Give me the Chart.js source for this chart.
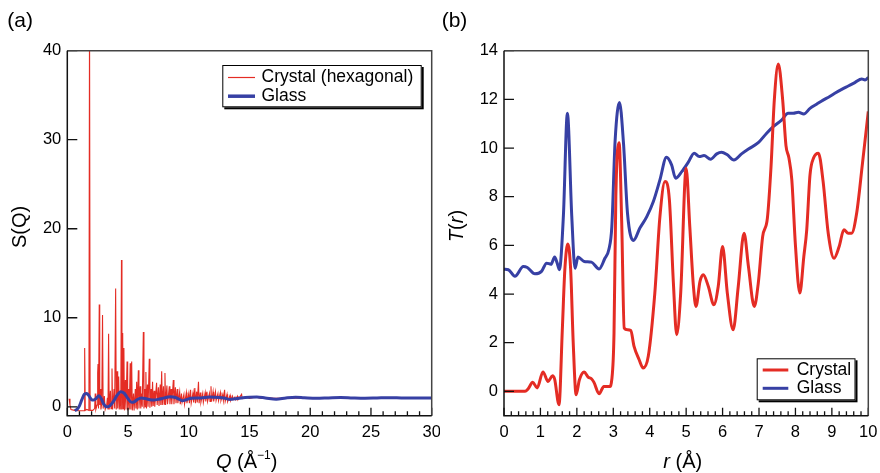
<!DOCTYPE html>
<html><head><meta charset="utf-8">
<script src="https://cdn.jsdelivr.net/npm/chart.js@4.4.1/dist/chart.umd.min.js"></script>
<style>
html,body{margin:0;padding:0;background:#fff;}
#wrap{position:relative;width:880px;height:473px;overflow:hidden;}
.box{position:absolute;top:0;width:440px;height:473px;}
</style></head><body>
<div id="wrap">
<div class="box" style="left:0"><canvas id="ca" width="440" height="473"></canvas></div>
<div class="box" style="left:440px"><canvas id="cb" width="440" height="473"></canvas></div>
</div>
<script>
// ---------- data: panel (a) S(Q) ----------
const crystalQ = [
 0.15,0.22,0.3,0.6,1.0,1.38,1.43,1.48,1.6,1.78,
 1.83,1.88,2.1,2.25,2.3,2.35,2.45,2.5,2.53,2.57,
 2.63,2.67,2.72,2.77,2.84,2.9,2.95,3.05,3.12,3.25,
 3.3,3.35,3.4,3.45,3.55,3.6,3.68,3.73,3.85,3.9,
 3.98,4.03,4.1,4.15,4.23,4.28,4.35,4.4,4.46,4.5,
 4.56,4.6,4.66,4.7,4.78,4.83,4.92,4.97,5.05,5.1,
 5.18,5.23,5.3,5.35,5.45,5.5,5.6,5.65,5.71,5.76,
 5.85,5.9,6.0,6.05,6.12,6.17,6.26,6.31,6.38,6.42,
 6.47,6.52,6.6,6.65,6.75,6.8,6.9,6.95,7.02,7.07,
 7.15,7.2,7.35,7.4,7.5,7.55,7.65,7.7,7.77,7.82,
 7.92,7.97,8.04,8.09,8.2,8.25,8.4,8.45,8.55,8.6,
 8.73,8.78,8.9,8.95,9.05,9.1,9.25,9.3,9.4,9.45,
 9.6,9.65,9.8,9.85,10.0,10.05,10.15,10.2,10.35,10.4,
 10.5,10.55,10.65,10.7,10.8,10.85,10.95,11.0,11.15,11.2,
 11.35,11.4,11.5,11.55,11.7,11.75,11.83,11.88,12.0,12.05,
 12.2,12.25,12.4,12.45,12.6,12.65,12.8,12.85,12.95,13.0,
 13.15,13.2,13.4,13.45,13.6,13.65,13.8,13.85,14.0,14.05,
 14.35,14.4,14.7,15.0,15.5,16.0,16.5,17.0,20,30
];
const crystalS = [
 0.9,0.2,-0.3,-0.4,-0.45,-0.45,6.6,-0.4,-0.3,-0.4,
 45,-0.4,-0.4,-0.2,1.5,-0.3,0.2,3.8,4.8,-0.2,
 11.5,0.2,2.0,-0.3,0.5,10.3,-0.2,1.2,-0.3,0.3,
 1.0,-0.3,8.2,-0.3,1.8,-0.2,4.3,-0.3,2.0,-0.2,
 13.3,-0.3,4.0,-0.2,3.4,-0.3,1.5,-0.3,16.5,-0.3,
 8.3,-0.2,6.6,-0.4,3.0,-0.3,5.1,-0.4,2.0,-0.3,
 4.9,-0.3,5.1,-0.4,1.5,-0.4,2.0,-0.2,2.8,-0.3,
 4.1,-0.2,2.3,-0.2,1.5,0.0,8.4,-0.2,2.0,0.0,
 3.9,-0.2,2.5,0.0,5.4,-0.1,2.0,0.0,2.8,0.1,
 1.8,0.0,2.7,0.2,2.2,0.1,2.5,0.2,4.0,0.2,
 2.3,0.3,3.8,0.2,2.4,0.3,2.3,0.3,2.0,0.3,
 3.0,0.3,2.2,0.4,2.0,0.4,1.7,0.3,1.5,0.5,
 1.4,0.3,1.6,0.4,1.5,0.4,1.9,0.4,1.6,0.5,
 2.1,0.4,1.7,0.5,2.8,0.4,1.6,0.5,1.5,0.5,
 1.6,0.6,1.7,0.6,1.5,0.6,2.3,0.6,1.7,0.6,
 1.7,0.7,1.5,0.7,1.6,0.7,1.4,0.7,1.9,0.6,
 1.4,0.6,1.3,0.7,1.2,0.8,1.1,0.8,1.2,0.8,
 1.4,0.9,1.1,0.95,1.1,0.95,1.05,0.95,1.0,1.0
];
const glassQ = [
 0.6,0.8,1.0,1.2,1.4,1.6,1.8,2.0,2.15,2.35,
 2.6,2.8,3.0,3.25,3.5,3.8,4.1,4.4,4.7,5.0,
 5.3,5.5,5.8,6.1,6.5,6.8,7.1,7.6,8.0,8.45,
 8.9,9.2,9.45,9.8,10.2,10.6,11.0,11.7,12.5,13.0,
 13.4,13.8,14.3,15.0,15.6,16.3,17.2,18.0,18.8,19.5,
 20.5,21.5,22.5,23.5,24.5,25.5,26.5,27.5,28.5,30
];
const glassS = [
 -0.4,-0.3,0.1,0.8,1.4,1.5,1.2,0.8,0.75,0.9,
 1.25,0.9,0.3,0.0,0.1,0.6,1.3,1.7,1.5,0.9,
 0.5,0.55,0.85,1.0,0.9,0.8,0.75,0.87,1.0,1.12,
 1.05,0.85,0.68,0.8,0.95,1.0,1.0,1.1,1.05,0.95,
 0.83,0.9,1.0,1.08,1.1,1.0,0.86,1.0,1.08,1.02,
 0.95,1.0,1.05,1.0,0.97,1.0,1.03,1.0,0.98,1.0
];
// ---------- data: panel (b) T(r) ----------
const crystalR = [
 0,0.3,0.58,0.66,0.79,0.91,1.07,1.21,1.33,1.39,
 1.51,1.6,1.67,1.75,1.83,1.9,1.98,2.07,2.2,2.31,
 2.4,2.47,2.61,2.74,2.9,2.96,3.02,3.07,3.16,3.23,
 3.3,3.39,3.48,3.57,3.71,3.82,3.96,4.14,4.28,4.42,
 4.54,4.65,4.74,4.85,5.0,5.1,5.2,5.27,5.38,5.47,
 5.61,5.76,5.88,6.0,6.13,6.29,6.43,6.59,6.71,6.87,
 6.98,7.1,7.23,7.33,7.42,7.53,7.65,7.74,7.82,7.9,
 8.0,8.12,8.23,8.31,8.4,8.5,8.63,8.76,8.9,9.06,
 9.2,9.33,9.45,9.54,9.68,9.84,10
];
const crystalT = [
 0,0,0,0.1,0.37,0.14,0.8,0.41,0.64,0.5,
 -0.55,2.5,5.0,6.06,5.0,2.0,-0.14,0.48,0.8,0.59,
 0.52,0.37,-0.1,0.2,0.2,0.5,2.4,8.0,10.22,7.0,
 2.6,2.53,2.5,1.85,1.3,0.96,1.44,4.04,7.18,8.62,
 7.87,4.45,2.33,4.04,9.17,6.77,4.31,3.49,4.52,4.79,
 4.31,3.56,4.31,5.95,4.04,2.53,4.31,6.5,5.13,3.49,
 4.45,6.36,7.12,9.24,11.97,13.45,11.97,10.1,9.6,8.7,
 6.0,4.04,5.54,6.64,8.9,9.6,9.79,8.62,6.5,5.47,
 5.95,6.64,6.5,6.5,7.32,9.37,11.5
];
const glassR = [
 0,0.12,0.3,0.53,0.64,0.85,1.03,1.17,1.29,1.39,
 1.46,1.52,1.63,1.74,1.86,1.95,2.03,2.2,2.4,2.61,
 2.77,2.88,2.96,3.05,3.17,3.28,3.39,3.55,3.73,3.92,
 4.1,4.28,4.46,4.6,4.71,4.88,5.06,5.22,5.36,5.49,
 5.67,5.84,5.97,6.13,6.31,6.52,6.71,6.98,7.21,7.39,
 7.62,7.8,7.94,8.08,8.23,8.4,8.58,8.76,8.93,9.08,
 9.27,9.45,9.63,9.82,9.91,10
];
const glassT = [
 5.02,5.0,4.73,5.13,5.09,4.83,4.93,5.27,5.22,5.52,
 5.27,5.0,7.2,11.43,7.2,5.06,5.52,5.34,5.31,5.03,
 5.47,5.84,6.77,10.3,11.87,10.2,7.32,6.2,6.71,7.18,
 7.8,8.69,9.62,9.31,8.76,9.03,9.42,9.79,9.65,9.69,
 9.54,9.76,9.83,9.72,9.51,9.76,9.96,10.22,10.61,10.88,
 11.15,11.43,11.43,11.47,11.4,11.63,11.8,11.97,12.11,12.25,
 12.41,12.55,12.69,12.84,12.8,12.9
];
// ---------- tick values ----------
const sqXTicks = [0,5,10,15,20,25,30];
const sqYTicks = [0,10,20,30,40];
const trXTicks = [0,1,2,3,4,5,6,7,8,9,10];
const trYTicks = [0,2,4,6,8,10,12,14];
const sqXMinor = []; for (let i = 0; i <= 30; i++) if (i % 5) sqXMinor.push(i);
const trXMinor = []; for (let i = 0; i <= 50; i++) if (i % 5) trXMinor.push(i / 5);

const RED = 'rgb(228,44,36)';
const BLUE = 'rgb(55,64,164)';
const FONT = '"Liberation Sans", Arial, Helvetica, sans-serif';
const TXT = '#000';
Chart.defaults.font.family = FONT;
Chart.defaults.color = TXT;

const pts = (xs, ys) => xs.map((v, i) => ({x: v, y: ys[i]}));

function richText(ctx, parts, x, y) {
  let w = 0;
  parts.forEach(p => { ctx.font = p.font; p.w = ctx.measureText(p.t).width; w += p.w; });
  let cx = x - w / 2;
  ctx.textAlign = 'left';
  ctx.textBaseline = 'alphabetic';
  parts.forEach(p => { ctx.font = p.font; ctx.fillText(p.t, cx, y + (p.dy || 0)); cx += p.w; });
}

function panelPlugin(cfg) {
  return {
    id: 'panel',
    afterDatasetsDraw(chart) {
      const {ctx, chartArea: a, scales: {x, y}} = chart;
      ctx.save();
      ctx.strokeStyle = '#111';
      ctx.lineWidth = 1.3;
      ctx.beginPath();
      cfg.xMajor.forEach(v => { const p = x.getPixelForValue(v); ctx.moveTo(p, a.bottom); ctx.lineTo(p, a.bottom - 8); });
      cfg.xMinor.forEach(v => { const p = x.getPixelForValue(v); ctx.moveTo(p, a.bottom); ctx.lineTo(p, a.bottom - 4.5); });
      cfg.yMajor.forEach(v => { const p = y.getPixelForValue(v); ctx.moveTo(a.left, p); ctx.lineTo(a.left + 10, p); });
      ctx.stroke();
      ctx.lineWidth = 1.5;
      // top and right edges slightly lighter
      ctx.strokeStyle = '#444';
      ctx.beginPath();
      ctx.moveTo(a.left, a.top); ctx.lineTo(a.right, a.top); ctx.lineTo(a.right, a.bottom);
      ctx.stroke();
      ctx.strokeStyle = '#111';
      ctx.beginPath();
      ctx.moveTo(a.left, a.top); ctx.lineTo(a.left, a.bottom); ctx.lineTo(a.right, a.bottom);
      ctx.stroke();
      ctx.restore();
    },
    afterDraw(chart) {
      const ctx = chart.ctx;
      const ds = chart.data.datasets;
      const lg = cfg.legend;
      ctx.save();
      ctx.fillStyle = '#000';
      ctx.fillRect(lg.x + 2, lg.y + 2, lg.w, lg.h);
      ctx.fillStyle = '#fff';
      ctx.fillRect(lg.x, lg.y, lg.w, lg.h);
      ctx.strokeStyle = '#000';
      ctx.lineWidth = 1;
      ctx.strokeRect(lg.x + 0.5, lg.y + 0.5, lg.w - 1, lg.h - 1);
      lg.rows.forEach((ry, i) => {
        const d = ds[lg.order[i]];
        ctx.strokeStyle = d.borderColor;
        ctx.lineWidth = lg.widths[i];
        ctx.beginPath(); ctx.moveTo(lg.x0, ry); ctx.lineTo(lg.x1, ry); ctx.stroke();
        ctx.fillStyle = TXT;
        ctx.font = '17.5px ' + FONT;
        ctx.textAlign = 'left';
        ctx.textBaseline = 'alphabetic';
        ctx.fillText(d.label, lg.tx, ry + 4.8);
      });
      ctx.fillStyle = TXT;
      ctx.font = '21px ' + FONT;
      ctx.textAlign = 'left';
      ctx.textBaseline = 'alphabetic';
      ctx.fillText(cfg.panel, cfg.panelX, 27);
      richText(ctx, cfg.xTitle, cfg.xTitleX, 467.5);
      ctx.translate(cfg.yTitleX, cfg.yTitleY);
      ctx.rotate(-Math.PI / 2);
      richText(ctx, cfg.yTitle, 0, 0);
      ctx.restore();
    }
  };
}

function makeChart(id, datasets, xr, yr, xTicks, yTicks, areaLeft, areaRight, plugin) {
  return new Chart(document.getElementById(id), {
    type: 'line',
    data: {datasets},
    options: {
      responsive: false, animation: false, devicePixelRatio: 1,
      layout: {padding: {left: 0, right: 440 - areaRight, top: 50.7, bottom: 0}},
      plugins: {legend: {display: false}, tooltip: {enabled: false}},
      elements: {point: {radius: 0}},
      scales: {
        x: {
          type: 'linear', min: xr[0], max: xr[1],
          grid: {display: false, drawTicks: false}, border: {display: false},
          ticks: {font: {size: 16.5}, color: TXT, padding: 7, maxRotation: 0, autoSkip: false},
          afterBuildTicks: s => { s.ticks = xTicks.map(v => ({value: v})); },
          afterFit: s => { s.height = 473 - 415.7; s.paddingLeft = 0; s.paddingRight = 0; }
        },
        y: {
          type: 'linear', min: yr[0], max: yr[1],
          grid: {display: false, drawTicks: false}, border: {display: false},
          ticks: {font: {size: 16.5}, color: TXT, padding: 6, autoSkip: false},
          afterBuildTicks: s => { s.ticks = yTicks.map(v => ({value: v})); },
          afterFit: s => { s.width = areaLeft; s.paddingTop = 0; s.paddingBottom = 0; }
        }
      }
    },
    plugins: [plugin]
  });
}

const IT20 = 'italic 20px ' + FONT, RG20 = '20px ' + FONT, RG12 = '12px ' + FONT;

makeChart('ca', [
  {label: 'Crystal (hexagonal)', data: pts(crystalQ, crystalS), borderColor: RED, borderWidth: 1.1, tension: 0, order: 2},
  {label: 'Glass', data: pts(glassQ, glassS), borderColor: BLUE, borderWidth: 3, cubicInterpolationMode: 'monotone', order: 1}
], [0, 30], [-1, 40], sqXTicks, sqYTicks, 67.3, 431.7, panelPlugin({
  xMajor: sqXTicks, xMinor: sqXMinor, yMajor: sqYTicks,
  legend: {x: 222.3, y: 65, w: 199.4, h: 42.3, rows: [77.5, 96.2], order: [0, 1], widths: [1.2, 3.5], x0: 228, x1: 255, tx: 261.5},
  panel: '(a)', panelX: 7.3,
  xTitle: [{t: 'Q', font: IT20}, {t: ' (Å', font: RG20}, {t: '−1', font: RG12, dy: -9}, {t: ')', font: RG20}],
  xTitleX: 246.7,
  yTitle: [{t: 'S(Q)', font: RG20}],
  yTitleX: 26, yTitleY: 227
}));

makeChart('cb', [
  {label: 'Crystal', data: pts(crystalR, crystalT), borderColor: RED, borderWidth: 3, cubicInterpolationMode: 'monotone', order: 1},
  {label: 'Glass', data: pts(glassR, glassT), borderColor: BLUE, borderWidth: 3, cubicInterpolationMode: 'monotone', order: 2}
], [0, 10], [-1, 14], trXTicks, trYTicks, 64, 428.3, panelPlugin({
  xMajor: trXTicks, xMinor: trXMinor, yMajor: trYTicks,
  legend: {x: 316.7, y: 358.3, w: 98.8, h: 42, rows: [370, 388.3], order: [0, 1], widths: [3, 3], x0: 322.7, x1: 348.3, tx: 356.7},
  panel: '(b)', panelX: 1.7,
  xTitle: [{t: 'r', font: IT20}, {t: ' (Å)', font: RG20}],
  xTitleX: 242.8,
  yTitle: [{t: 'T', font: IT20}, {t: '(', font: RG20}, {t: 'r', font: IT20}, {t: ')', font: RG20}],
  yTitleX: 22.5, yTitleY: 226
}));
</script>
</body></html>
